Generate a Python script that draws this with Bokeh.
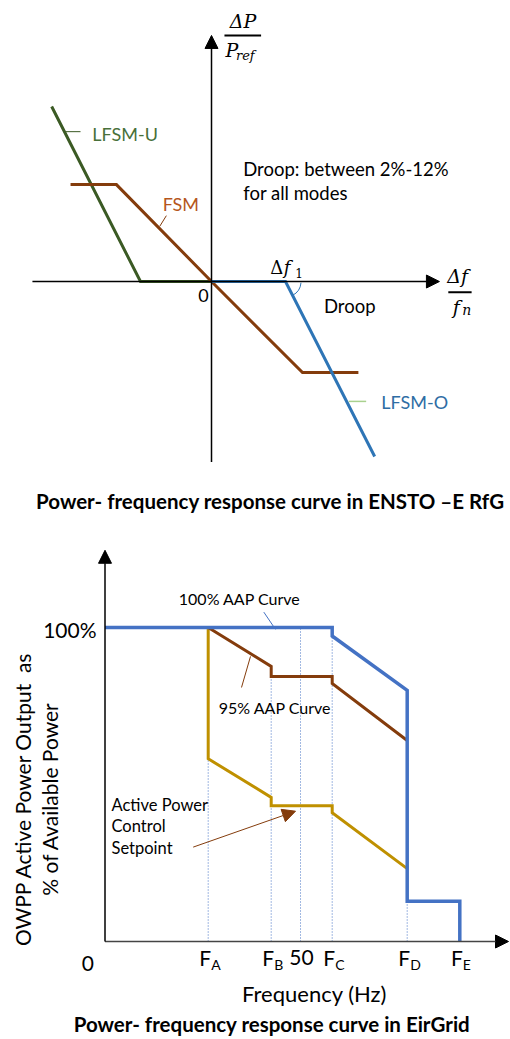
import math
from bokeh.plotting import figure
from bokeh.models import Range1d, Arrow, NormalHead
from bokeh.layouts import column
from bokeh.core.properties import value
from bokeh.embed import file_html
from bokeh.resources import INLINE

# ---------------- Top chart (ENTSO-E RfG), schematic units ----------------
lfsm_u_f = [-4.32, -1.92, 0.0]
lfsm_u_p = [4.73, 0.0, 0.0]
fsm_f = [-3.81, -2.57, 0.0, 2.46, 3.97]
fsm_p = [2.62, 2.62, 0.0, -2.46, -2.46]
lfsm_o_f = [0.0, 2.0, 4.41]
lfsm_o_p = [0.0, 0.0, -4.73]
df1 = 2.0

# ---------------- Bottom chart (EirGrid) ----------------
freq_main = ["F", "F", "50", "F", "F", "F"]
freq_sub = ["A", "B", "", "C", "D", "E"]
freq_pos = [10.32, 16.62, 19.55, 22.72, 30.22, 35.48]
FA, FB, F50, FC, FD, FE = freq_pos
aap100_f = [0.0, FC, FC, FD, FD, FE, FE]
aap100_p = [100.0, 100.0, 97.3, 80.0, 12.8, 12.8, 0.0]
aap95_f = [FA, FB, FB, FC, FC, FD]
aap95_p = [100.0, 87.6, 84.4, 84.4, 82.2, 64.0]
setp_f = [FA, FA, FB, FB, FC, FC, FD]
setp_p = [100.0, 58.2, 45.9, 43.2, 43.2, 41.0, 23.2]

FONT = "Lato"
MATH = "DejaVu Serif"

GREEN = "#3B5A24"
BROWN = "#843C0C"
BLUE1 = "#2E75B6"
BLUE2 = "#4472C4"
GOLD = "#BF9000"


def txt(p, x, y, s, size, color="black", align="left", baseline="middle",
        font=FONT, style="normal", angle=0.0, xo=0, yo=0):
    p.text(x=[x], y=[y], text=[s], text_font=value(font),
           text_font_size=f"{size}px", text_color=color, text_align=align,
           text_baseline=baseline, text_font_style=style, angle=angle,
           x_offset=xo, y_offset=yo)


def make_fig(w, h, xr, yr):
    p = figure(width=w, height=h, x_range=Range1d(*xr), y_range=Range1d(*yr),
               output_backend="svg", toolbar_location=None, min_border=0,
               x_axis_location=None, y_axis_location=None)
    p.grid.visible = False
    p.outline_line_color = None
    p.background_fill_color = "white"
    p.border_fill_color = "white"
    return p

# ======================= TOP =======================
p1 = make_fig(510, 520, (-5.703, 8.081), (-6.459, 7.595))

# axes
p1.add_layout(Arrow(x_start=-4.84, y_start=0, x_end=6.16, y_end=0, line_width=1.5,
                    end=NormalHead(size=13, fill_color="black", line_color="black")))
p1.add_layout(Arrow(x_start=0, y_start=-4.88, x_end=0, y_end=6.65, line_width=1.5,
                    end=NormalHead(size=13, fill_color="black", line_color="black")))

p1.line(lfsm_u_f, lfsm_u_p, line_color=GREEN, line_width=3, line_join="miter")
p1.line(fsm_f, fsm_p, line_color=BROWN, line_width=3, line_join="miter")
p1.line(lfsm_o_f, lfsm_o_p, line_color=BLUE1, line_width=3, line_join="miter")

# droop arc
slope_ang = math.atan2(lfsm_o_p[2] - lfsm_o_p[1], lfsm_o_f[2] - lfsm_o_f[1])
p1.arc(x=[df1], y=[0], radius=0.42, start_angle=slope_ang, end_angle=-0.08,
       line_color=BLUE1, line_width=1)

# leaders
p1.line([-3.95, -3.54], [4.05, 4.05], line_color=GREEN, line_width=1)
p1.line([-1.40, -1.22], [1.49, 1.78], line_color=BROWN, line_width=1)
p1.line([3.71, 4.18], [-3.24, -3.24], line_color="#A9D18E", line_width=1.5)

txt(p1, -3.22, 3.99, "LFSM-U", 18, color="#48703A")
txt(p1, -1.32, 2.10, "FSM", 18, color="#B5561C")
txt(p1, 4.59, -3.26, "LFSM-O", 18, color="#2E6DA4")
txt(p1, 0.857, 3.05, "Droop: between 2%-12%", 18.5)
txt(p1, 0.857, 2.39, "for all modes", 18.5)
txt(p1, -0.22, -0.38, "0", 18, align="center")
txt(p1, 3.04, -0.65, "Droop", 18.5)

# math labels
txt(p1, 1.59, 0.39, "Δ", 18, font=MATH)
txt(p1, 1.95, 0.39, "f", 18, font=MATH, style="italic")
txt(p1, 2.26, 0.22, "1", 12, font=MATH)
# dP / Pref
txt(p1, 0.85, 7.05, "ΔP", 19, font=MATH, style="italic", align="center")
p1.line([0.35, 1.34], [6.65, 6.65], line_color="black", line_width=2)
txt(p1, 0.38, 6.27, "P", 19, font=MATH, style="italic")
txt(p1, 0.66, 6.10, "ref", 13, font=MATH, style="italic")
# df / fn
txt(p1, 6.65, 0.15, "Δf", 19, font=MATH, style="italic", align="center")
p1.line([6.40, 7.03], [-0.29, -0.29], line_color="black", line_width=2)
txt(p1, 6.52, -0.68, "f", 19, font=MATH, style="italic")
txt(p1, 6.78, -0.78, "n", 14, font=MATH, style="italic")

txt(p1, 1.59, -5.92, "Power- frequency response curve in ENSTO \u2013E RfG", 20.5,
    style="bold", align="center")

# ======================= BOTTOM =======================
p2 = make_fig(510, 519, (-10.45, 40.55), (-31.21, 134.08))

# dotted guide lines from axis up to the curve above each marker
dotted_top = [setp_p[1], aap95_p[2], aap100_p[0], aap100_p[2], aap100_p[4]]
p2.segment(x0=freq_pos[:5], y0=[0] * 5, x1=freq_pos[:5], y1=dotted_top,
           line_color=BLUE2, line_width=1, line_dash="1 2")

p2.add_layout(Arrow(x_start=0, y_start=0, x_end=40.35, y_end=0, line_width=1.5,
                    line_color="#444444",
                    end=NormalHead(size=13, fill_color="black", line_color="black")))
p2.add_layout(Arrow(x_start=0, y_start=0, x_end=0, y_end=124.6, line_width=1.5,
                    end=NormalHead(size=13, fill_color="black", line_color="black")))

p2.line(setp_f, setp_p, line_color=GOLD, line_width=3, line_join="miter")
p2.line(aap95_f, aap95_p, line_color=BROWN, line_width=3, line_join="miter")
p2.line(aap100_f, aap100_p, line_color=BLUE2, line_width=3.5, line_join="miter")

# leaders
p2.line([15.88, 17.05], [104.9, 99.4], line_color=BLUE2, line_width=1)
p2.line([13.65, 14.55], [80.9, 90.8], line_color=BROWN, line_width=1)
p2.add_layout(Arrow(x_start=8.82, y_start=30.06, x_end=19.05, y_end=41.5,
                    line_color=BROWN, line_width=1,
                    end=NormalHead(size=13, fill_color=BROWN, line_color=BROWN)))

txt(p2, -0.85, 99.3, "100%", 21, align="right")
txt(p2, -1.72, -7.0, "0", 21, align="center")
for pos, m, s in zip(freq_pos, freq_main, freq_sub):
    if s:
        txt(p2, pos, -5.1, m, 21, align="right", xo=3)
        txt(p2, pos, -7.2, s, 14, align="left", xo=3)
    else:
        txt(p2, pos, -5.1, m, 21, align="center", xo=1)
txt(p2, 20.95, -16.56, "Frequency (Hz)", 22, align="center")
txt(p2, 16.7, -26.4, "Power- frequency response curve in EirGrid", 20.5,
    style="bold", align="center")

txt(p2, -8.28, 45.4, "OWPP Active Power Output\u00a0 as", 21, align="center",
    angle=math.pi / 2)
txt(p2, -5.52, 45.4, "% of Available Power", 21, align="center",
    angle=math.pi / 2)

txt(p2, 7.38, 109.2, "100% AAP Curve", 16)
txt(p2, 11.38, 74.5, "95% AAP Curve", 16)
txt(p2, 0.65, 43.5, "Active Power", 16.5)
txt(p2, 0.65, 36.85, "Control", 16.5)
txt(p2, 0.65, 29.7, "Setpoint", 16.5)

layout = column(p1, p2, spacing=0)
open("out.html", "w").write(file_html(layout, INLINE))
